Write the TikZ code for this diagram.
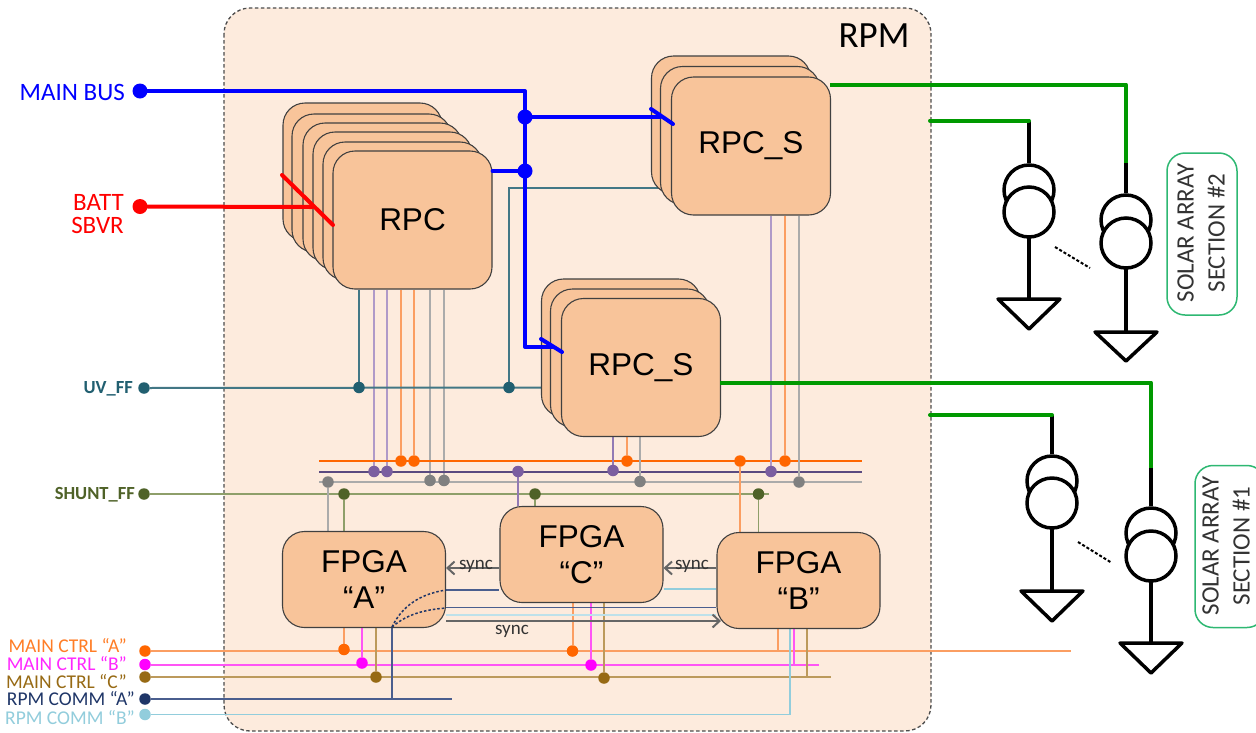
\documentclass[tikz,border=0pt]{standalone}
\usepackage{fontspec}
\setmainfont{Liberation Sans}
\newfontfamily\calfont{Carlito}
\usetikzlibrary{arrows.meta}
\pgfdeclarelayer{rpmback}
\pgfdeclarelayer{wires}
\pgfsetlayers{rpmback,wires,main}

\definecolor{rpmfill}{HTML}{FDEBDD}
\definecolor{blockfill}{HTML}{F8C49A}
\definecolor{uvteal}{HTML}{215F70}
\definecolor{shuntolive}{HTML}{4F6228}
\definecolor{shuntline}{HTML}{8E9F6A}
\definecolor{ffpurple}{HTML}{7B5EA0}
\definecolor{ffpurplem}{HTML}{927AB4}
\definecolor{ffpurplel}{HTML}{B09AC8}
\definecolor{ffpurpled}{HTML}{5B4A80}
\definecolor{ffgray}{HTML}{808080}
\definecolor{ffgrayl}{HTML}{ABABAB}
\definecolor{ctrlorange}{HTML}{FF6600}
\definecolor{ctrlorangel}{HTML}{FB9E62}
\definecolor{ctrlmag}{HTML}{FF00FF}
\definecolor{ctrlmagl}{HTML}{FF55F5}
\definecolor{ctrlbrown}{HTML}{976A14}
\definecolor{ctrlbrownl}{HTML}{BC9A5C}
\definecolor{commnavy}{HTML}{1F3668}
\definecolor{commnavyl}{HTML}{4A5E8E}
\definecolor{commsky}{HTML}{92CDDC}
\definecolor{sagreen}{HTML}{009900}
\definecolor{boxgreen}{HTML}{2EB872}
\definecolor{syncgray}{HTML}{666666}

\tikzset{
    block/.style={draw=black!75, line width=1.1pt, fill=blockfill, rounded corners=22pt,
        inner sep=0pt, align=center, font=\fontsize{31.5}{36}\selectfont},
    rpcbox/.style={block, minimum width=159pt, minimum height=138pt},
    fpgabox/.style={block, minimum width=163pt, minimum height=96pt},
    junc/.style={circle, fill=#1, inner sep=0pt, minimum size=11.5pt},
    bigjunc/.style={circle, fill=#1, inner sep=0pt, minimum size=15pt},
    sigtext/.style={anchor=east, align=right, inner sep=0pt, font=\calfont\fontsize{19.5}{19.5}\selectfont},
    bigtext/.style={anchor=east, align=right, inner sep=0pt, font=\calfont\fontsize{25}{23.5}\selectfont},
    fftext/.style={anchor=east, inner sep=0pt, font=\calfont\bfseries\fontsize{18.5}{19}\selectfont},
    synctext/.style={text=black!80, font=\calfont\fontsize{19}{19}\selectfont},
    syncwire/.style={-{Straight Barb[length=7pt,width=13pt]}, syncgray, line width=2pt},
    thinwire/.style={line width=1.5pt},
    power/.style={line width=4pt, line cap=round, line join=round},
    cell/.style={draw=black, fill=white, circle, line width=3.5pt, inner sep=0pt, minimum size=50pt},
    celltop/.style={cell, fill=none},
    ground/.style={draw=black, line width=3.5pt, line join=round},
    sectionbox/.style={draw=boxgreen, line width=1.5pt, rounded corners=18pt, inner sep=0pt,
        minimum width=70pt, minimum height=162pt},
    sectiontext/.style={rotate=90, align=center, text=black!80, font=\calfont\fontsize{25}{31}\selectfont},
}

\begin{document}
\begin{tikzpicture}[x=1pt, y=-1pt]
    \useasboundingbox (0,0) rectangle (1256,732);

    %% ── Module ────────────────────────────────────────────────────────
    \begin{pgfonlayer}{rpmback}
        \fill[white] (0,0) rectangle (1256,732);
        \draw[draw=black!70, fill=rpmfill, line width=1.3pt, dash pattern=on 3.5pt off 2.5pt, rounded corners=26pt]
            (224,8) rectangle (931,731);
    \end{pgfonlayer}
    \node[font=\calfont\fontsize{37}{38}\selectfont] (rpmtext) at (874,36) {RPM};

    %% ── RPC stack ─────────────────────────────────────────────────────
    \node[rpcbox] (rpcE) at (362.5,172) {};
    \node[rpcbox] (rpcD) at (371.5,183) {};
    \node[rpcbox] (rpcC) at (382.5,192) {};
    \node[rpcbox] (rpcB) at (392.5,201) {};
    \node[rpcbox] (rpcA) at (402.5,211) {};
    \node[rpcbox] (rpc) at (412.5,220) {RPC};

    %% ── RPC_S stacks ──────────────────────────────────────────────────
    \node[rpcbox] (rpcsTopC) at (731,125) {};
    \node[rpcbox] (rpcsTopB) at (740,135.5) {};
    \node[rpcbox] (rpcsTop) at (751,146) {\raisebox{-3pt}{RPC\_S}};

    \node[rpcbox] (rpcsLowC) at (621,348) {};
    \node[rpcbox] (rpcsLowB) at (630,358) {};
    \node[rpcbox] (rpcsLow) at (641,367.5) {\raisebox{-3pt}{RPC\_S}};

    %% ── FPGA ──────────────────────────────────────────────────────────
    \node[fpgabox] (fpgaA) at (364,579.5) {FPGA\\“A”};
    \node[fpgabox] (fpgaC) at (581.5,554.5) {FPGA\\“C”};
    \node[fpgabox] (fpgaB) at (798.5,580.5) {FPGA\\“B”};

    %% ── Inputs on the left ────────────────────────────────────────────
    \node[bigjunc=blue] (mainbus) at (140,91) {};
    \node[bigtext, text=blue] (mainbustext) at (125,92) {MAIN BUS};
    \node[bigjunc=red] (battbus) at (140,206.5) {};
    \node[bigtext, text=red] (batttext) at (124,214) {BATT\\SBVR};
    \node[junc=uvteal] (uvff) at (144,388) {};
    \node[fftext, text=uvteal] (uvtext) at (133,388.5) {UV\_FF};
    \node[junc=shuntolive] (shuntff) at (144,494) {};
    \node[fftext, text=shuntolive] (shunttext) at (135,494.5) {SHUNT\_FF};

    \node[junc=ctrlorange] (ctrla) at (145,651) {};
    \node[junc=ctrlmag] (ctrlb) at (145,664.5) {};
    \node[junc=ctrlbrown] (ctrlc) at (145,677) {};
    \node[junc=commnavy] (comma) at (145,699) {};
    \node[junc=commsky] (commb) at (145,714.5) {};
    \node[sigtext, text=ctrlorange!85!white] (ctrlatext) at (127,646) {MAIN CTRL “A”};
    \node[sigtext, text=ctrlmag!85!white] (ctrlbtext) at (127,664) {MAIN CTRL “B”};
    \node[sigtext, text=ctrlbrown] (ctrlctext) at (127,682) {MAIN CTRL “C”};
    \node[sigtext, text=commnavy] (commatext) at (135,699) {RPM COMM “A”};
    \node[sigtext, text=commsky] (commbtext) at (135,718) {RPM COMM “B”};

    %% ── Junctions ─────────────────────────────────────────────────────
    \node[bigjunc=blue] (busA) at (525,117) {};
    \node[bigjunc=blue] (busB) at (525,171) {};
    \node[junc=uvteal] (uvA) at (359,387.5) {};
    \node[junc=uvteal] (uvB) at (509,387.5) {};

    \node[junc=ffpurple] (ppA) at (374,471.5) {};
    \node[junc=ffpurple] (ppB) at (387,471.5) {};
    \node[junc=ctrlorange] (orA) at (401,461) {};
    \node[junc=ctrlorange] (orB) at (414,461) {};
    \node[junc=ffgray] (gyA) at (430,480.5) {};
    \node[junc=ffgray] (gyB) at (444,480.5) {};
    \node[junc=ffgray] (gyC) at (328,482) {};
    \node[junc=shuntolive] (olA) at (344,494) {};
    \node[junc=ffpurple] (ppC) at (518,471.5) {};
    \node[junc=shuntolive] (olC) at (535,494) {};
    \node[junc=ffpurple] (ppD) at (613,470.5) {};
    \node[junc=ctrlorange] (orD) at (627,461) {};
    \node[junc=ffgray] (gyD) at (640,481.5) {};
    \node[junc=ctrlorange] (orE) at (740,461) {};
    \node[junc=shuntolive] (olE) at (758.5,494) {};
    \node[junc=ffpurple] (ppF) at (771,471.5) {};
    \node[junc=ctrlorange] (orF) at (785,461) {};
    \node[junc=ffgray] (gyF) at (799,482) {};

    \node[junc=ctrlorange] (ctA) at (344,649.5) {};
    \node[junc=ctrlmag] (mgA) at (362,663) {};
    \node[junc=ctrlbrown] (brA) at (376,677) {};
    \node[junc=ctrlorange] (ctC) at (572.5,651) {};
    \node[junc=ctrlmag] (mgC) at (591,665) {};
    \node[junc=ctrlbrown] (brC) at (604,678) {};

    %% ── Free ends ─────────────────────────────────────────────────────
    \coordinate (mainturn) at (525,91);
    \coordinate (lowturn) at (525,347);
    \coordinate (lowstub) at (552,347);
    \coordinate (topstub) at (660,117);
    \coordinate (battend) at (312,207);
    \coordinate (tickLowA) at (541,339);
    \coordinate (tickLowB) at (562,352);
    \coordinate (tickTopA) at (651,109);
    \coordinate (tickTopB) at (673,124);
    \coordinate (tickRedA) at (282,175);
    \coordinate (tickRedB) at (333,225);
    \coordinate (uvend) at (565,387.5);
    \coordinate (uvturn) at (509,188);
    \coordinate (orbusL) at (319,461);
    \coordinate (orbusR) at (862,461);
    \coordinate (ppbusL) at (319,472);
    \coordinate (ppbusR) at (862,472);
    \coordinate (gybusL) at (319,482);
    \coordinate (gybusR) at (862,482);
    \coordinate (shuntend) at (769,494);
    \coordinate (ctrlaend) at (1071,651);
    \coordinate (ctrlbend) at (819,664.5);
    \coordinate (ctrlcend) at (831,677);
    \coordinate (commaend) at (452,699);
    \coordinate (commturn) at (392,627);
    \coordinate (skyturn) at (790,714.5);
    \coordinate (brB) at (807,677);
    \coordinate (mgB) at (794,664.5);
    \coordinate (ctB) at (778,651);
    \coordinate (synctip) at (721,621);

    %% ── Wires under the blocks ────────────────────────────────────────
    \begin{pgfonlayer}{wires}
        \draw[thinwire, uvteal!85!white] (rpc.south -| uvA) -- (uvA);
        \draw[thinwire, ffpurplel] (rpc.south -| ppA) -- (ppA);
        \draw[thinwire, ffpurplel] (rpc.south -| ppB) -- (ppB);
        \draw[thinwire, ctrlorangel] (rpc.south -| orA) -- (orA);
        \draw[thinwire, ctrlorangel] (rpc.south -| orB) -- (orB);
        \draw[thinwire, ffgrayl] (rpc.south -| gyA) -- (gyA);
        \draw[thinwire, ffgrayl] (rpc.south -| gyB) -- (gyB);

        \draw[thinwire, uvteal!85!white] (uvB) -- (uvturn) -- (rpcsTop.west |- uvturn);
        \draw[line width=2pt, uvteal!85!white] (uvff) -- (uvend);

        \draw[line width=2pt, ctrlorange] (orbusL) -- (orbusR);
        \draw[line width=2pt, ffpurpled] (ppbusL) -- (ppbusR);
        \draw[thinwire, ffgrayl] (gybusL) -- (gybusR);
        \draw[thinwire, shuntline] (shuntff) -- (shuntend);

        \draw[thinwire, ffgrayl] (gyC) -- (fpgaA.north -| gyC);
        \draw[thinwire, shuntline] (olA) -- (fpgaA.north -| olA);
        \draw[thinwire, ffpurplem] (ppC) -- (fpgaC.north -| ppC);
        \draw[thinwire, shuntline] (olC) -- (fpgaC.north -| olC);
        \draw[thinwire, ffpurplem] (rpcsLow.south -| ppD) -- (ppD);
        \draw[thinwire, ctrlorangel] (rpcsLow.south -| orD) -- (orD);
        \draw[thinwire, ffgrayl] (rpcsLow.south -| gyD) -- (gyD);
        \draw[thinwire, ctrlorangel] (orE) -- (fpgaB.north -| orE);
        \draw[thinwire, shuntline] (olE) -- (fpgaB.north -| olE);
        \draw[thinwire, ffpurplel] (rpcsTop.south -| ppF) -- (ppF);
        \draw[thinwire, ctrlorangel] (rpcsTop.south -| orF) -- (orF);
        \draw[thinwire, ffgrayl] (rpcsTop.south -| gyF) -- (gyF);

        \draw[thinwire, ctrlorangel] (ctrla) -- (ctrlaend);
        \draw[line width=2pt, ctrlmagl] (ctrlb) -- (ctrlbend);
        \draw[line width=2pt, ctrlbrownl] (ctrlc) -- (ctrlcend);
        \draw[line width=2pt, ctrlorangel] (fpgaA.south -| ctA) -- (ctA);
        \draw[line width=2pt, ctrlmagl] (fpgaA.south -| mgA) -- (mgA);
        \draw[thinwire, ctrlbrownl] (fpgaA.south -| brA) -- (brA);
        \draw[line width=2pt, ctrlorangel] (fpgaC.south -| ctC) -- (ctC);
        \draw[line width=2pt, ctrlmagl] (fpgaC.south -| mgC) -- (mgC);
        \draw[thinwire, ctrlbrownl] (fpgaC.south -| brC) -- (brC);
        \draw[thinwire, ctrlorangel] (fpgaB.south -| ctB) -- (ctB);
        \draw[line width=2pt, ctrlmagl] (fpgaB.south -| mgB) -- (mgB);
        \draw[thinwire, ctrlbrownl] (fpgaB.south -| brB) -- (brB);

        \draw[thinwire, commnavyl] (comma) -- (commaend);
        \draw[thinwire, commnavyl] (commturn) -- (commturn |- comma);
        \draw[thinwire, commsky] (commb) -- (skyturn) -- (skyturn |- fpgaB.south);
        \draw[thinwire, commnavyl] (fpgaA.east |- 0,590) -- (fpgaC.west |- 0,590);
        \draw[thinwire, commnavyl] (fpgaA.east |- 0,607.5) -- (fpgaB.west |- 0,607.5);
        \draw[thinwire, commsky] (fpgaC.east |- 0,589) -- (fpgaB.west |- 0,589);
        \draw[line width=2pt, commsky!60!white] (fpgaA.east |- 0,614.5) -- (fpgaB.west |- 0,614.5);
    \end{pgfonlayer}

    %% ── Wires over the blocks ─────────────────────────────────────────
    \draw[power, blue] (mainbus) -- (mainturn) -- (lowturn) -- (lowstub);
    \draw[power, blue] (busA) -- (topstub);
    \draw[power, blue] (rpc.east |- busB) -- (busB);
    \draw[power, blue] (tickLowA) -- (tickLowB);
    \draw[power, blue] (tickTopA) -- (tickTopB);
    \draw[power, red] (battbus) -- (battend);
    \draw[power, red] (tickRedA) -- (tickRedB);

    \draw[line width=1.5pt, commnavy, dash pattern=on 2.5pt off 2pt]
        (commturn) .. controls (402,606) and (420,594) .. (fpgaA.east |- 0,590);
    \draw[line width=1.5pt, commnavy, dash pattern=on 2.5pt off 2pt]
        (commturn) .. controls (405,616) and (420,610) .. (fpgaA.east |- 0,608);

    \draw[syncwire] (fpgaC.west |- 0,568) -- (fpgaA.east |- 0,568);
    \draw[syncwire] (fpgaB.west |- 0,568) -- (fpgaC.east |- 0,568);
    \draw[syncwire] (fpgaA.east |- synctip) -- (synctip);
    \node[synctext, anchor=base] (syncAC) at (476,569.5) {sync};
    \node[synctext, anchor=base] (syncCB) at (692,569.5) {sync};
    \node[synctext, anchor=base] (syncAB) at (512,634) {sync};

    %% ── Solar array section 2 ─────────────────────────────────────────
    \coordinate (sa2Apow) at (830,84.5);
    \coordinate (sa2Akink) at (1126,84.5);
    \coordinate (sa2Bstart) at (930,120.5);
    \coordinate (sa2Bkink) at (1029,120.5);
    \node[celltop] (sa2Bt) at (1029,190) {};
    \node[cell] (sa2Bb) at (1029,212) {};
    \node[celltop] (sa2At) at (1126,220) {};
    \node[cell] (sa2Ab) at (1126,243) {};
    \coordinate (sa2Agreen) at (1126,163);
    \draw[ground] (1029,238) -- (1029,299);
    \draw[ground] (998,299) -- (1060,299) -- (1029,329) -- cycle;
    \draw[ground] (1126,268) -- (1126,332);
    \draw[ground] (1095,332) -- (1157,332) -- (1126,361) -- cycle;
    \draw[line width=3.5pt] (sa2Bkink) -- (sa2Bt.north);
    \draw[line width=3.5pt] (sa2Agreen) -- (sa2At.north);
    \draw[power, sagreen, line cap=butt] (sa2Apow) -- (sa2Akink) -- (sa2Agreen);
    \draw[power, sagreen] (sa2Bstart) -- (sa2Bkink);
    \draw[line width=2pt, dash pattern=on 3pt off 2pt] (1055,247) -- (1090,268);
    \node[sectionbox] (sa2box) at (1202,234) {};
    \node[sectiontext] (sa2text) at (1201,233) {SOLAR ARRAY\\SECTION \#2};

    %% ── Solar array section 1 ─────────────────────────────────────────
    \coordinate (sa1Apow) at (720,382.5);
    \coordinate (sa1Akink) at (1151,382.5);
    \coordinate (sa1Bstart) at (930,415);
    \coordinate (sa1Bkink) at (1052,415);
    \node[celltop] (sa1Bt) at (1052,481) {};
    \node[cell] (sa1Bb) at (1052,503) {};
    \node[celltop] (sa1At) at (1151,533) {};
    \node[cell] (sa1Ab) at (1151,556) {};
    \coordinate (sa1Agreen) at (1151,468);
    \draw[ground] (1052,529) -- (1052,591);
    \draw[ground] (1021,591) -- (1083,591) -- (1052,621) -- cycle;
    \draw[ground] (1151,581) -- (1151,643);
    \draw[ground] (1120,643) -- (1182,643) -- (1151,673) -- cycle;
    \draw[line width=3.5pt] (sa1Bkink) -- (sa1Bt.north);
    \draw[line width=3.5pt] (sa1Agreen) -- (sa1At.north);
    \draw[power, sagreen, line cap=butt] (sa1Apow) -- (sa1Akink) -- (sa1Agreen);
    \draw[power, sagreen] (sa1Bstart) -- (sa1Bkink);
    \draw[line width=2pt, dash pattern=on 3pt off 2pt] (1078,542) -- (1112,563);
    \node[sectionbox] (sa1box) at (1230,546.5) {};
    \node[sectiontext] (sa1text) at (1226,546) {SOLAR ARRAY\\SECTION \#1};

\end{tikzpicture}
\end{document}
